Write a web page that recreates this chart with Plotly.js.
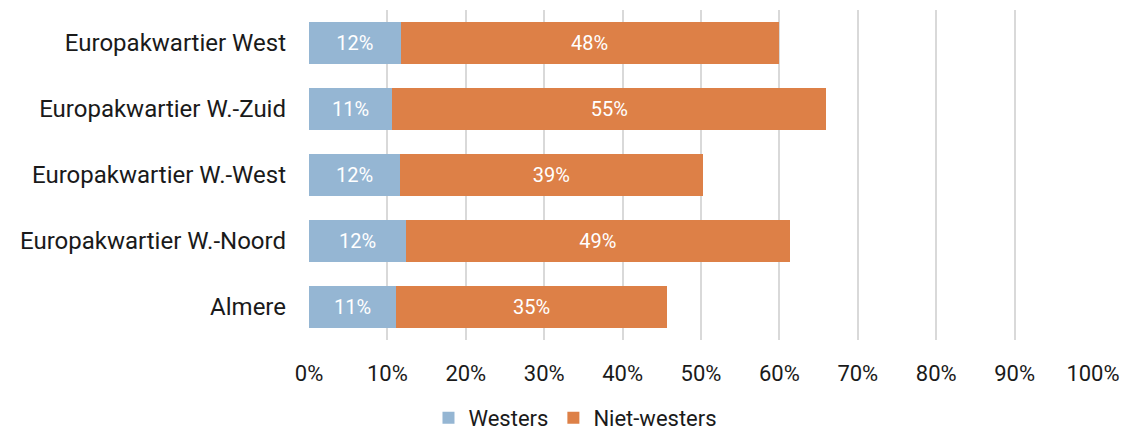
<!DOCTYPE html>
<html>
<head>
<meta charset="utf-8">
<script src="https://cdn.plot.ly/plotly-3.0.1.min.js"></script>
<style>html,body{margin:0;padding:0;background:#fff;}#chart{width:1124px;height:433px;}</style>
</head>
<body>
<div id="chart"></div>
<script>
const categories = ["Europakwartier West", "Europakwartier W.-Zuid", "Europakwartier W.-West", "Europakwartier W.-Noord", "Almere"];
const westers = [11.7, 10.6, 11.6, 12.4, 11.1];
const nietWesters = [48.2, 55.4, 38.6, 48.9, 34.6];
const tickValues = [0, 10, 20, 30, 40, 50, 60, 70, 80, 90, 100];

const FONT = "Roboto, 'DejaVu Sans', sans-serif";

const traces = [
  {
    type: 'bar', orientation: 'h', name: 'Westers',
    y: categories, x: westers,
    marker: {color: '#95B6D3'},
    texttemplate: '%{x:.0f}%', textposition: 'inside', insidetextanchor: 'middle',
    textfont: {color: '#ffffff', size: 20, family: FONT},
    hoverinfo: 'skip'
  },
  {
    type: 'bar', orientation: 'h', name: 'Niet-westers',
    y: categories, x: nietWesters,
    marker: {color: '#DD8047'},
    texttemplate: '%{x:.0f}%', textposition: 'inside', insidetextanchor: 'middle',
    textfont: {color: '#ffffff', size: 20, family: FONT},
    hoverinfo: 'skip'
  }
];

const layout = {
  width: 1124, height: 433,
  barmode: 'stack', bargap: 0.35,
  margin: {l: 309, r: 31, t: 10, b: 93, autoexpand: false},
  paper_bgcolor: '#ffffff', plot_bgcolor: '#ffffff',
  font: {family: FONT, color: '#1a1a1a', size: 22},
  showlegend: true,
  legend: {orientation: 'h', xref: 'container', x: 0.512, xanchor: 'center',
           y: -0.236, yanchor: 'middle',
           font: {size: 22, color: '#1a1a1a'}, traceorder: 'normal', itemwidth: 30},
  xaxis: {
    range: [0, 100], tickvals: tickValues, ticktext: tickValues.map(v => v + '%'),
    showgrid: true, gridcolor: '#d9d9d9', gridwidth: 2, zeroline: false,
    showline: false, ticks: '', ticklabelstandoff: 18, fixedrange: true,
    tickfont: {size: 22, color: '#1a1a1a'}
  },
  yaxis: {
    type: 'category', categoryorder: 'array', categoryarray: categories,
    autorange: 'reversed', showgrid: false, zeroline: false, showline: false,
    ticks: '', ticklabelstandoff: 22, tickfont: {size: 24, color: '#1a1a1a'}
  }
};

Plotly.newPlot('chart', traces, layout, {displayModeBar: false, staticPlot: true});
</script>
</body>
</html>
